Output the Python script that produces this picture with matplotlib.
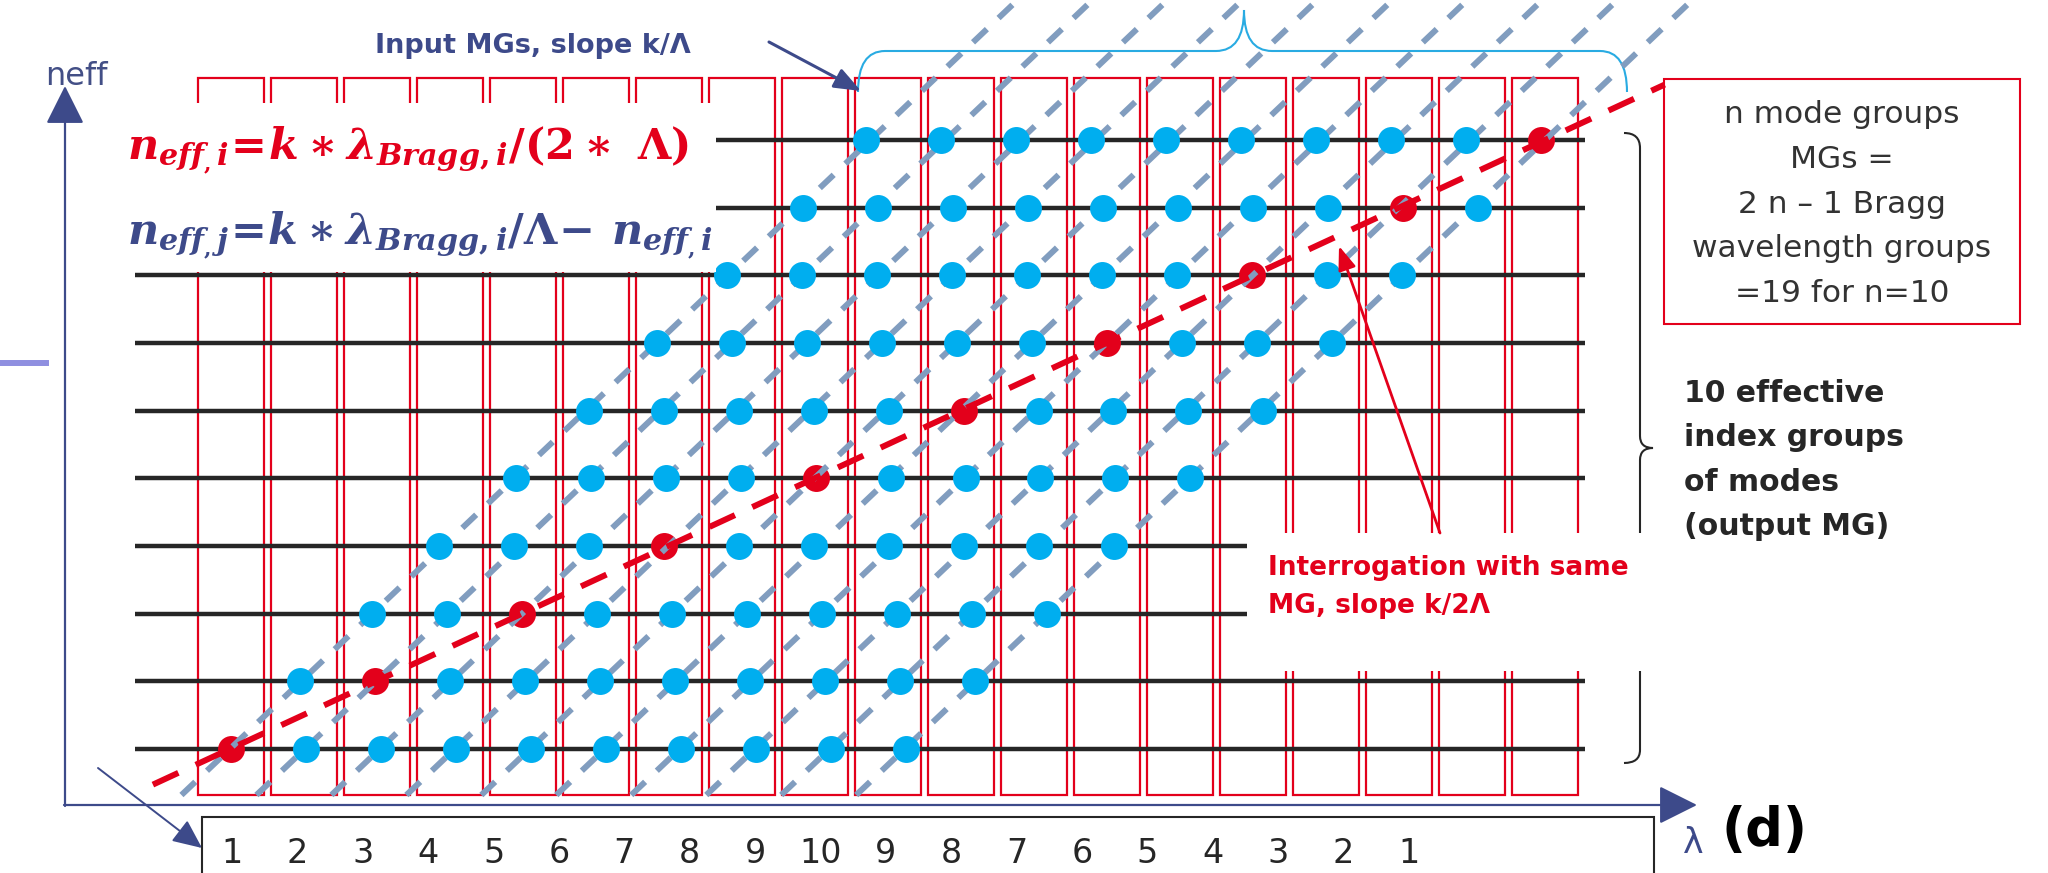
"""
Mode groups vs. Bragg wavelength groups, panel (d).
Grid of effective index groups (rows) against Bragg wavelength groups (columns),
input MG lines of slope k/Lambda and the same-MG interrogation line of slope k/2Lambda.
"""
import numpy as np
import matplotlib
matplotlib.use('Agg')
import matplotlib.pyplot as plt
from matplotlib.patches import Rectangle, PathPatch
from matplotlib.path import Path

W, H = 2048, 873

# ---- values ----
bragg_groups = np.arange(1, 20)                        # 19 Bragg wavelength groups (columns)
neff_groups = np.arange(10)                            # 10 effective index groups, bottom -> top
# position (in wavelength-group units) of the first mode on each row, and mode pitch along a row
row_first_pos = [1.0, 1.95, 2.93, 3.85, 4.90, 5.90, 6.84, 7.80, 8.84, 9.70]
mode_pitch = 1.027
modes_per_row = 10
same_mg_index = [0, 1, 2, 3, 4, 5, 6, 7, 8, 9]         # mode on each row read with the same MG (red)
wavelength_labels = ['1', '2', '3', '4', '5', '6', '7', '8', '9', '10',
                     '9', '8', '7', '6', '5', '4', '3', '2', '1']
box_lines = ['n mode groups', 'MGs =', '2 n \u2013 1 Bragg', 'wavelength groups', '=19 for n=10']
side_lines = ['10 effective', 'index groups', 'of modes', '(output MG)']

RED = '#e3001b'
NAVY = '#3d4a8a'
CYAN = '#00aeef'
STEEL = '#819dbf'
SKY = '#29abe2'
DARK = '#262626'

# pixel anchors of the grid (column 1 centre, row 0 centre) and pitches
COL1_X, COL_PITCH = 231, 73.0
ROW0_Y, ROW_PITCH = 749, 67.67
HALF_COL = 0.452
RECT_BOTTOM, RECT_TOP = -0.68, 9.916

plt.rcParams['mathtext.fontset'] = 'custom'
plt.rcParams['mathtext.it'] = 'DejaVu Serif:italic:bold'
plt.rcParams['mathtext.rm'] = 'DejaVu Serif:bold'
plt.rcParams['mathtext.bf'] = 'DejaVu Serif:bold'


def F(x, y):
    """pixel position (top-left origin) -> figure fraction"""
    return (x / W, 1 - y / H)


fig = plt.figure(figsize=(W / 100, H / 100), dpi=100)
ax = fig.add_axes([0, 0, 1, 1])
ax.set_autoscale_on(False)
ax.set_xlim(1 - COL1_X / COL_PITCH, 1 + (W - COL1_X) / COL_PITCH)
ax.set_ylim((ROW0_Y - H) / ROW_PITCH, ROW0_Y / ROW_PITCH)
ax.axis('off')
TF = fig.transFigure

# red wavelength-group windows
for c in bragg_groups:
    ax.add_patch(Rectangle((c - HALF_COL, RECT_BOTTOM), 2 * HALF_COL, RECT_TOP - RECT_BOTTOM,
                           fill=False, ec=RED, lw=1.6, zorder=1))

# effective index rows
ax.hlines(neff_groups, -0.32, 19.55, color=DARK, lw=3.2, zorder=2)

# mode positions: pos[j, m]
pos = np.array(row_first_pos)[:, None] + mode_pitch * np.arange(modes_per_row)[None, :]
red_x = pos[neff_groups, same_mg_index]
for j in neff_groups:
    blue = np.delete(pos[j], same_mg_index[j])
    ax.plot(blue, np.full(len(blue), j), 'o', ms=19.4, mfc=CYAN, mec='none', zorder=4)
ax.plot(red_x, neff_groups, 'o', ms=19.4, mfc=RED, mec='none', zorder=2.5)

# input MG lines: one straight line through mode m of every row
jj = np.array([RECT_BOTTOM, 11.3])
for m in range(modes_per_row):
    a, b = np.polyfit(neff_groups, pos[:, m], 1)
    ax.plot(a * jj + b, jj, color=STEEL, lw=4.3, ls=(0, (3.2, 2.7)),
            dash_capstyle='butt', zorder=3)

# same-MG interrogation line through the red dots
slope, icpt = np.polyfit(red_x, neff_groups, 1)
cx = np.array([-0.07, 20.64])
ax.plot(cx, slope * cx + icpt, color=RED, lw=4.3, ls=(0, (4.7, 3.2)),
        dash_capstyle='butt', zorder=5)

# white areas behind the formula and the interrogation note
for (x0, y0, x1, y1) in [(80, 103, 716, 272), (1247, 533, 1662, 671)]:
    ax.add_patch(Rectangle(F(x0, y1), (x1 - x0) / W, (y1 - y0) / H, transform=TF,
                           fc='white', ec='none', zorder=6))

# right-hand brace (black)
M, C3, L = Path.MOVETO, Path.CURVE3, Path.LINETO
bv = [(1624, 133), (1640, 133), (1640, 148), (1640, 436), (1640, 448), (1653, 448),
      (1640, 448), (1640, 460), (1640, 750), (1640, 763), (1624, 763)]
bc = [M, C3, C3, L, C3, C3, C3, C3, L, C3, C3]
ax.add_patch(PathPatch(Path([F(*p) for p in bv], bc), transform=TF, fill=False,
                       ec=DARK, lw=1.5, zorder=2))

# top brace (light blue)
tv = [(858, 92), (858, 51), (885, 51), (1216, 51), (1244, 51), (1244, 10),
      (1244, 51), (1272, 51), (1600, 51), (1627, 51), (1627, 92)]
ax.add_patch(PathPatch(Path([F(*p) for p in tv], bc), transform=TF, fill=False,
                       ec=SKY, lw=1.5, zorder=2))


def arrow(p0, p1, color, lw=1.6, hl=1.2, hw=0.6, ms=20, z=7):
    ax.annotate('', xy=F(*p1), xytext=F(*p0), xycoords=TF, textcoords=TF,
                arrowprops=dict(arrowstyle=f'-|>,head_length={hl},head_width={hw}',
                                color=color, lw=lw, shrinkA=0, shrinkB=0,
                                mutation_scale=ms), zorder=z)


arrow((65, 806), (65, 86), NAVY)
arrow((64, 805), (1697, 805), NAVY)
arrow((98, 768), (202, 848), NAVY, lw=1.4, hl=1.0, hw=0.45, ms=18)
arrow((769, 42), (861, 91), NAVY, lw=2.2, hl=0.9, hw=0.35, ms=18)
arrow((1440, 533), (1339, 246), RED, lw=2.0, hl=0.8, hw=0.3, ms=18)

ax.plot(*zip(F(0, 363), F(46, 363)), color='#8f8fe0', lw=4.3, transform=TF, zorder=7)

# red info box
ax.add_patch(Rectangle(F(1664, 324), (2020 - 1664) / W, (324 - 79) / H, transform=TF,
                       fill=False, ec=RED, lw=1.5, zorder=7))
for k, s in enumerate(box_lines):
    ax.text(*F(1842, 123 + 44.8 * k), s, transform=TF, ha='center', va='baseline',
            fontsize=22.5, color='#333333', zorder=8)

for k, s in enumerate(side_lines):
    ax.text(*F(1684, 402 + 44.3 * k), s, transform=TF, ha='left', va='baseline',
            fontsize=21.5, fontweight='bold', color=DARK, zorder=8)

ax.text(*F(1268, 575), 'Interrogation with same', transform=TF, ha='left', va='baseline',
        fontsize=19, fontweight='bold', color=RED, zorder=8)
ax.text(*F(1268, 613), 'MG, slope k/2\u039b', transform=TF, ha='left', va='baseline',
        fontsize=19, fontweight='bold', color=RED, zorder=8)

ax.text(*F(375, 53), 'Input MGs, slope k/\u039b', transform=TF, ha='left', va='baseline',
        fontsize=19.5, fontweight='bold', color=NAVY, zorder=8)

ax.text(*F(45, 85), 'neff', transform=TF, ha='left', va='baseline',
        fontsize=23, color='#434f86', zorder=8)

# formulas
ax.text(*F(127, 160), r'$n_{eff_{,}\,i}\!=\!k\ast\lambda_{Bragg,i}/(2\ast\ \Lambda)$',
        transform=TF, ha='left', va='baseline', fontsize=31, color=RED, zorder=8)
ax.text(*F(127, 245), r'$n_{eff_{,}\,j}\!=\!k\ast\lambda_{Bragg,i}/\Lambda\!-\,n_{eff_{,}\,i}$',
        transform=TF, ha='left', va='baseline', fontsize=31, color=NAVY, zorder=8)

# wavelength label box
ax.add_patch(Rectangle(F(202, 900), (1654 - 202) / W, (900 - 817) / H, transform=TF,
                       fill=False, ec=DARK, lw=1.5, zorder=7))
for x, s in zip(np.linspace(232, 1409, len(wavelength_labels)), wavelength_labels):
    ax.text(*F(x, 863), s, transform=TF, ha='center', va='baseline',
            fontsize=24, color=DARK, zorder=8)

ax.text(*F(1693, 853), '\u03bb', transform=TF, ha='center', va='baseline',
        fontsize=25, color=NAVY, zorder=8)
ax.text(*F(1764, 846), '(d)', transform=TF, ha='center', va='baseline',
        fontsize=38, fontweight='bold', color='black', zorder=8)

fig.savefig('out.png', dpi=100, facecolor='white')
